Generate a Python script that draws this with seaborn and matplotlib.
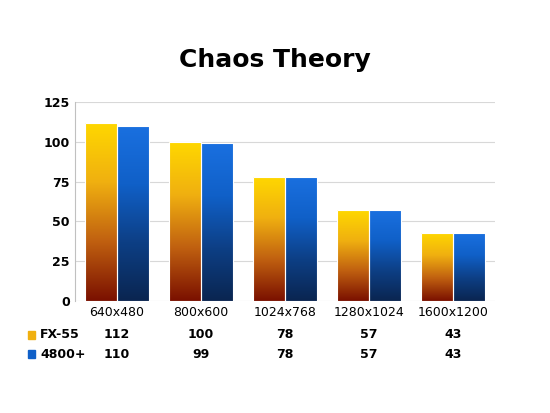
import numpy as np
import pandas as pd
import seaborn as sns
import matplotlib.pyplot as plt
from matplotlib.colors import LinearSegmentedColormap

resolutions = ["640x480", "800x600", "1024x768", "1280x1024", "1600x1200"]
fx55 = [112, 100, 78, 57, 43]
x4800 = [110, 99, 78, 57, 43]
series = ["FX-55", "4800+"]

df = pd.DataFrame({
    "res": resolutions * 2,
    "score": fx55 + x4800,
    "cpu": ["FX-55"] * 5 + ["4800+"] * 5,
})

cmaps = {
    "FX-55": LinearSegmentedColormap.from_list("fx", ["#7a1000", "#c06010", "#f0b010", "#ffd800"]),
    "4800+": LinearSegmentedColormap.from_list("amd", ["#0a2550", "#0d3f85", "#1060c8", "#1a70e0"]),
}
solid = {"FX-55": "#f0b010", "4800+": "#1060c8"}

fig = plt.figure(figsize=(5.5, 4.13), dpi=100)
ax = fig.add_axes([0.136, 0.271, 0.764, 0.482])
sns.barplot(data=df, x="res", y="score", hue="cpu", hue_order=series,
            palette=solid, width=0.76, gap=0.0, ax=ax, legend=False,
            edgecolor="white", linewidth=0.8)

grad = np.linspace(0, 1, 256).reshape(-1, 1)
for cont, name in zip(ax.containers, series):
    for bar in cont:
        x0, w, h = bar.get_x(), bar.get_width(), bar.get_height()
        im = ax.imshow(grad, cmap=cmaps[name], origin="lower", aspect="auto",
                       extent=[x0, x0 + w, 0, h], zorder=bar.get_zorder())
        im.set_clip_path(bar)
        bar.set_facecolor("none")
        bar.set_zorder(im.get_zorder() + 0.1)

ax.set_xlim(-0.5, 4.5)
ax.set_ylim(0, 125)
ax.set_yticks([0, 25, 50, 75, 100, 125])
ax.yaxis.grid(True, color="#d8d8d8", linewidth=0.8)
ax.set_axisbelow(True)
ax.set_xlabel("")
ax.set_ylabel("")
ax.tick_params(axis="both", length=0, labelsize=9)
for t in ax.get_yticklabels():
    t.set_fontweight("bold")
for s in ["top", "right", "bottom"]:
    ax.spines[s].set_visible(False)
ax.spines["left"].set_color("#c0c0c0")
ax.set_xticklabels([])

fig.text(0.5, 0.855, "Chaos Theory", ha="center", va="center", fontsize=18, fontweight="bold")

# data table below
x_data = lambda i: (75 + (i + 0.5) * 84) / 550
for i, r in enumerate(resolutions):
    fig.text(x_data(i), 1 - 313 / 413, r, ha="center", va="center", fontsize=9)
rows_y = [1 - 335 / 413, 1 - 354 / 413]
for name, vals, yy in zip(series, [fx55, x4800], rows_y):
    fig.patches.append(plt.Rectangle((28 / 550, yy - 0.009), 0.012, 0.018,
                                     transform=fig.transFigure, color=solid[name]))
    fig.text(40 / 550, yy, name, ha="left", va="center", fontsize=9, fontweight="bold")
    for i, v in enumerate(vals):
        fig.text(x_data(i), yy, str(v), ha="center", va="center", fontsize=9, fontweight="bold")

fig.savefig("out.png", dpi=100)
